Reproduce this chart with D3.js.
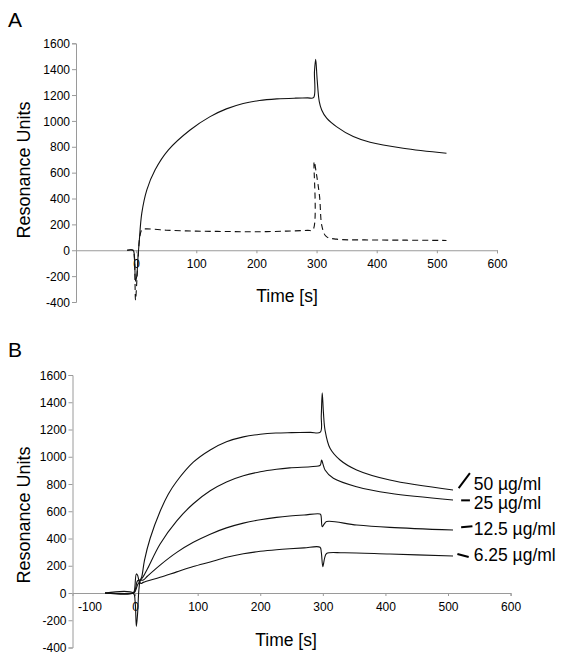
<!DOCTYPE html>
<html>
<head>
<meta charset="utf-8">
<script src="https://cdn.jsdelivr.net/npm/d3@7"></script>
<style>
  html, body { margin: 0; padding: 0; background: #fff; }
  svg { display: block; font-family: "Liberation Sans", Arial, sans-serif; }
</style>
</head>
<body>
<svg id="chart" width="565" height="662"></svg>
<script>
// ---------- data ----------
const xTicksA = [0, 100, 200, 300, 400, 500, 600];
const xTicksB = [-100, 0, 100, 200, 300, 400, 500, 600];
const yTicks = [-400, -200, 0, 200, 400, 600, 800, 1000, 1200, 1400, 1600];

// Panel A, solid trace
const timeA1 = [-15, -5, -3, -1, 1, 3, 5, 9.4, 17.8, 31.6, 53.7, 89.7, 123, 150, 178, 205, 234, 265, 285, 295, 296.5, 298.5, 301, 304.5, 308.5, 316.8, 333, 361, 389, 444, 516];
const valA1  = [0, 0, -40, -240, -200, -60, 60, 287, 467, 622, 776, 930, 1033, 1093, 1135, 1158, 1170, 1176, 1178, 1180, 1380, 1476, 1317, 1149, 1085, 1021, 956, 879, 835, 789, 750];

// Panel A, dashed trace
const timeA2 = [-15, -5, -3, -1, 1, 3, 6, 9.5, 15, 50, 100, 150, 200, 250, 285, 294, 296, 299.5, 305, 309, 316, 333, 380, 450, 516];
const valA2  = [0, 0, -60, -385, -250, -80, 100, 158, 165, 155, 148, 145, 143, 148, 154, 158, 686, 598, 415, 184, 107, 86, 80, 78, 76];

// Panel B, four concentrations
const labelsB = ["50 µg/ml", "25 µg/ml", "12.5 µg/ml", "6.25 µg/ml"];
const timeB50 = [-48, -3, 0, 2, 4, 6, 8, 10.7, 15, 24, 40, 53, 66.6, 93, 120, 146, 173, 200, 225, 250, 280, 296, 297.5, 299, 301, 303.5, 311.5, 327.5, 354, 407, 508];
const valB50  = [0, 0, -60, -245, -150, 20, 90, 120, 240, 400, 600, 725, 820, 960, 1050, 1110, 1146, 1165, 1174, 1177, 1179, 1181, 1300, 1470, 1320, 1196, 1062, 976, 903, 829, 756];
const timeB25 = [-48, -3, 0, 4, 8, 13, 20, 40, 66.6, 93, 120, 146, 173, 200, 226, 247, 293, 296, 298, 300, 303.5, 316.8, 354, 407, 508];
const valB25  = [0, 0, 10, 60, 90, 120, 180, 360, 530, 655, 750, 815, 860, 890, 908, 918, 932, 938, 976, 950, 903, 842, 780, 732, 683];
const timeB12 = [-48, -3, 0, 4, 8, 13, 20, 40, 66.6, 93, 120, 146, 173, 200, 226, 247, 270, 295.5, 297, 299, 302, 306, 354, 407, 508];
const valB12  = [0, 0, 20, 90, 95, 95, 125, 205, 298, 372, 432, 478, 513, 538, 555, 565, 573, 580, 570, 487, 505, 524, 499, 482, 462];
const timeB6  = [-48, -3, -1, 2, 4, 7, 10, 13, 40, 66.6, 93, 120, 146, 173, 200, 226, 247, 270, 295.5, 297.5, 300, 303, 306, 333, 407, 508];
const valB6   = [0, 0, 20, 140, 130, 80, 70, 78, 115, 155, 194, 228, 262, 288, 306, 318, 325, 331, 336, 300, 193, 260, 290, 295, 286, 272];

// ---------- drawing ----------
const svg = d3.select("#chart");
const zip = (t, v) => t.map((d, i) => [d, v[i]]);
const FONT = "'Liberation Sans', Arial, sans-serif";
const fmt = d => String(d);

function panel(cfg) {
  const x = d3.scaleLinear().domain([-100, 600]).range(cfg.xr);
  const y = d3.scaleLinear().domain([-400, 1600]).range(cfg.yr);
  const g = svg.append("g");

  const ya = g.append("g").attr("transform", `translate(${x(-100)},0)`)
    .call(d3.axisLeft(y).tickValues(yTicks).tickSize(4).tickPadding(2).tickFormat(fmt));
  const xa = g.append("g").attr("transform", `translate(0,${y(0)})`)
    .call(d3.axisBottom(x).tickValues(cfg.xTicks).tickSize(3).tickPadding(6).tickFormat(fmt));
  [ya, xa].forEach(a => {
    a.attr("font-family", FONT);
    a.select(".domain").attr("stroke", "#9a9a9a").attr("stroke-width", 1);
    a.selectAll(".tick line").attr("stroke", "#9a9a9a");
    a.selectAll(".tick text").attr("fill", "#000").style("font-size", "12px");
  });
  ya.selectAll(".tick text").attr("dy", "0.34em");
  if (cfg.shiftFirst) {
    xa.selectAll(".tick").filter(d => d === -100).select("text").attr("dx", cfg.shiftFirst);
    xa.selectAll(".tick").filter(d => d === -100).select("line").remove();
  }

  const line = d3.line().x(d => x(d[0])).y(d => y(d[1])).curve(d3.curveCatmullRom.alpha(0.5));
  cfg.series.forEach(s => {
    g.append("path").datum(s.data)
      .attr("fill", "none").attr("stroke", "#111").attr("stroke-width", 1.1)
      .attr("stroke-dasharray", s.dash || null)
      .attr("d", line);
  });

  svg.append("text").attr("x", 8).attr("y", cfg.letterY).text(cfg.letter)
    .style("font-size", "21px").attr("fill", "#000");
  svg.append("text").attr("transform", `translate(${cfg.ytX},${cfg.ytY}) rotate(-90)`)
    .attr("text-anchor", "middle").text("Resonance Units")
    .style("font-size", "18px").attr("fill", "#000");
  svg.append("text").attr("x", cfg.xtX).attr("y", cfg.xtY)
    .attr("text-anchor", "middle").text("Time [s]")
    .style("font-size", "17.5px").attr("fill", "#000");
  return { x, y, g };
}

panel({
  xr: [76, 497], yr: [302, 43.3], xTicks: xTicksA,
  series: [{ data: zip(timeA1, valA1) }, { data: zip(timeA2, valA2), dash: "6,4" }],
  letter: "A", letterY: 27, ytX: 30, ytY: 170, xtX: 287, xtY: 302
});

const pB = panel({
  xr: [72.5, 510.6], yr: [647.5, 375], xTicks: xTicksB, shiftFirst: 17,
  series: [
    { data: zip(timeB50, valB50) }, { data: zip(timeB25, valB25) },
    { data: zip(timeB12, valB12) }, { data: zip(timeB6, valB6) }
  ],
  letter: "B", letterY: 357, ytX: 30, ytY: 515, xtX: 286, xtY: 646
});

// curve labels with leader lines (anchored in data coordinates)
const labelVals = [800, 660, 470, 280];
const leaderFrom = [[517, 770], [521, 680], [521, 483], [515, 286]];
const leaderTo   = [[535, 880], [535, 680], [539, 490], [533, 264]];
labelsB.forEach((lab, i) => {
  pB.g.append("line")
    .attr("x1", pB.x(leaderFrom[i][0])).attr("y1", pB.y(leaderFrom[i][1]))
    .attr("x2", pB.x(leaderTo[i][0])).attr("y2", pB.y(leaderTo[i][1]))
    .attr("stroke", "#000").attr("stroke-width", 2);
  pB.g.append("text")
    .attr("x", pB.x(541)).attr("y", pB.y(labelVals[i]))
    .attr("dy", "0.35em")
    .text(lab).style("font-size", "17.5px").attr("fill", "#000");
});
</script>
</body>
</html>
